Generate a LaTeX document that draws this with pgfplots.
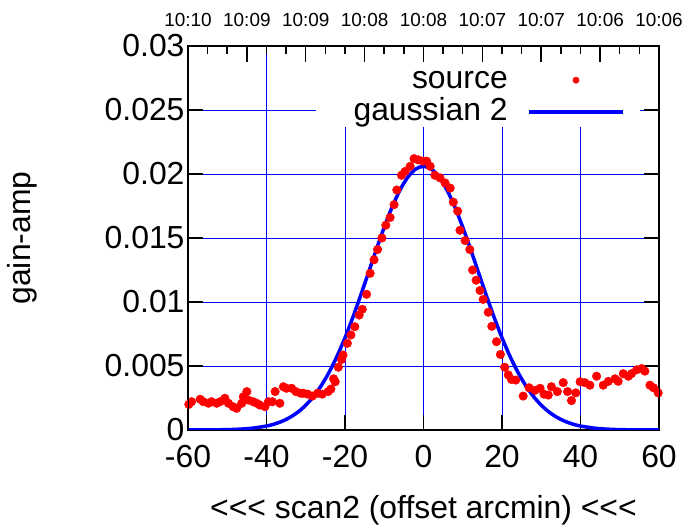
\documentclass[border=0pt]{standalone}
\usepackage{fontspec}
\setmainfont{Liberation Sans}
\usepackage{pgfplots}
\pgfplotsset{compat=1.18}
\pgfplotsset{
  dotlegend/.style={legend image code/.code={\draw[mark repeat=2,mark phase=2,##1,mark size=3.2bp] plot coordinates {(0bp,0bp)(46.5bp,0bp)(93bp,0bp)};}},
  linelegend/.style={legend image code/.code={\draw[##1] (0bp,0bp) -- (93bp,0bp);}},
}

\pgfplotstableread{
x y
-59.8 0.00200
-59.1 0.00221
-56.9 0.00240
-56.1 0.00221
-54.8 0.00209
-54.0 0.00221
-52.7 0.00209
-51.8 0.00221
-50.6 0.00248
-49.7 0.00209
-48.5 0.00182
-47.6 0.00169
-46.3 0.00209
-45.9 0.00260
-45.0 0.00300
-44.6 0.00234
-43.4 0.00221
-42.5 0.00209
-41.7 0.00195
-40.4 0.00182
-39.5 0.00221
-38.5 0.00221
-37.8 0.00300
-36.6 0.00209
-35.7 0.00338
-34.9 0.00326
-33.6 0.00326
-32.5 0.00300
-31.3 0.00287
-30.6 0.00287
-29.5 0.00280
-28.3 0.00265
-27.0 0.00287
-25.8 0.00280
-24.3 0.00300
-23.6 0.00320
-22.9 0.00400
-22.5 0.00377
-21.7 0.00490
-20.9 0.00550
-20.5 0.00586
-19.4 0.00677
-18.5 0.00742
-17.5 0.00807
-16.4 0.00898
-15.6 0.00943
-14.5 0.01060
-13.6 0.01224
-12.6 0.01330
-11.7 0.01410
-10.6 0.01500
-9.6 0.01600
-8.5 0.01660
-7.5 0.01760
-6.8 0.01875
-5.6 0.01990
-4.7 0.02020
-3.4 0.02060
-2.4 0.02120
-1.3 0.02110
-0.05 0.02100
0.8 0.02100
1.7 0.02060
2.9 0.01990
4.2 0.01970
5.5 0.01930
6.8 0.01890
7.6 0.01780
8.7 0.01710
9.3 0.01560
10.6 0.01480
11.8 0.01410
12.5 0.01250
13.4 0.01170
14.4 0.01090
15.2 0.01020
16.5 0.00920
17.4 0.00810
18.6 0.00690
19.6 0.00590
20.7 0.00490
21.6 0.00430
22.4 0.00395
23.5 0.00390
25.4 0.00265
26.9 0.00330
28.4 0.00310
29.7 0.00326
30.7 0.00280
31.8 0.00273
32.6 0.00338
34.1 0.00300
35.6 0.00370
36.7 0.00300
37.7 0.00230
38.8 0.00290
39.9 0.00377
41.1 0.00370
42.4 0.00350
44.1 0.00420
45.8 0.00350
47.1 0.00380
48.8 0.00400
49.6 0.00380
50.9 0.00440
52.2 0.00420
53.0 0.00440
54.3 0.00470
55.6 0.00480
56.4 0.00460
57.7 0.00350
58.6 0.00330
59.8 0.00290
}\srcdata

\pgfplotstableread{
x y
-60 0.0000016
-56 0.0000055
-52 0.0000170
-48 0.0000486
-44 0.000128
-40 0.000309
-38 0.000465
-36 0.000686
-34 0.000990
-32 0.001400
-30 0.001939
-28 0.002630
-26 0.003492
-24 0.004541
-22 0.005781
-20 0.007207
-18 0.008799
-16 0.010519
-14 0.012314
-12 0.014116
-10 0.015844
-8 0.017414
-6 0.018742
-4 0.019753
-2 0.020385
0 0.020600
2 0.020385
4 0.019753
6 0.018742
8 0.017414
10 0.015844
12 0.014116
14 0.012314
16 0.010519
18 0.008799
20 0.007207
22 0.005781
24 0.004541
26 0.003492
28 0.002630
30 0.001939
32 0.001400
34 0.000990
36 0.000686
38 0.000465
40 0.000309
44 0.000128
48 0.0000486
52 0.0000170
56 0.0000055
60 0.0000016
}\gaussdata

\begin{document}
\begin{tikzpicture}
% main axis: data, grid, bottom/left/right ticks
\begin{axis}[
  scale only axis, width=471bp, height=384bp,
  xmin=-60, xmax=60, ymin=0, ymax=0.03,
  scaled ticks=false,
  xtick={-60,-40,-20,0,20,40,60},
  xticklabels={-60,-40,-20,0,20,40,60},
  ytick={0,0.005,0.01,0.015,0.02,0.025,0.03},
  yticklabels={0,0.005,0.01,0.015,0.02,0.025,0.03},
  xtick pos=bottom,
  major tick length=15bp,
  tick style={black, line width=1.5bp},
  axis line style={line width=2.2bp},
  xmajorgrids, ymajorgrids,
  major grid style={blue, line width=0.9bp},
  ticklabel style={font=\fontsize{32}{36}\selectfont},
  xticklabel style={yshift=-12bp},
  label style={font=\fontsize{32}{36}\selectfont},
  xlabel={<{}<{}< scan2 (offset arcmin) <{}<{}<},
  ylabel={gain-amp},
  xlabel style={at={(axis description cs:0.5,-0.21)}, anchor=center},
  ylabel style={at={(axis description cs:-0.352,0.5)}, anchor=center},
  legend cell align=right,
  legend plot pos=right,
  legend style={draw=none, fill=none, at={(axis description cs:0.933,0.957)},
    anchor=north east, font=\fontsize{32}{36}\selectfont,
    nodes={inner sep=0pt, text height=24bp, text depth=7bp},
    column sep=20bp, row sep=1bp},
]
\fill[white] (axis cs:-27.4,0.02367) rectangle (axis cs:55.2,0.03);
\addplot[only marks, mark=*, red, mark size=4.3bp, dotlegend]
  table[x=x,y=y] {\srcdata};
\addplot[blue, line width=3.5bp, smooth, linelegend]
  table[x=x,y=y] {\gaussdata};
\legend{source, gaussian 2}
\end{axis}
% top tick marks only
\begin{axis}[
  scale only axis, width=471bp, height=384bp,
  xmin=-60, xmax=60, ymin=0, ymax=0.03,
  ytick=\empty,
  xtick pos=right, xticklabel pos=right,
  xtick={-60,-45,-30,-15,0,15,30,45,60},
  minor xtick={-55,-50,-40,-35,-25,-20,-10,-5,5,10,20,25,35,40,50,55},
  major tick length=16bp, minor tick length=8bp,
  tick style={black, line width=1.5bp},
  xticklabel style={text opacity=0},
]
\end{axis}
% top time labels only
\begin{axis}[
  scale only axis, width=471bp, height=384bp,
  xmin=-60, xmax=60, ymin=0, ymax=0.03,
  ytick=\empty,
  xtick pos=right, xticklabel pos=right,
  xtick={-60,-45,-30,-15,0,15,30,45,60},
  xticklabels={10:10,10:09,10:09,10:08,10:08,10:07,10:07,10:06,10:06},
  major tick length=0bp,
  axis line style={draw=none},
  xticklabel style={font=\fontsize{19}{22}\selectfont, yshift=16bp},
]
\end{axis}
\pgfresetboundingbox
\useasboundingbox (-188bp,-99bp) rectangle (497bp,430bp);
\end{tikzpicture}
\end{document}
